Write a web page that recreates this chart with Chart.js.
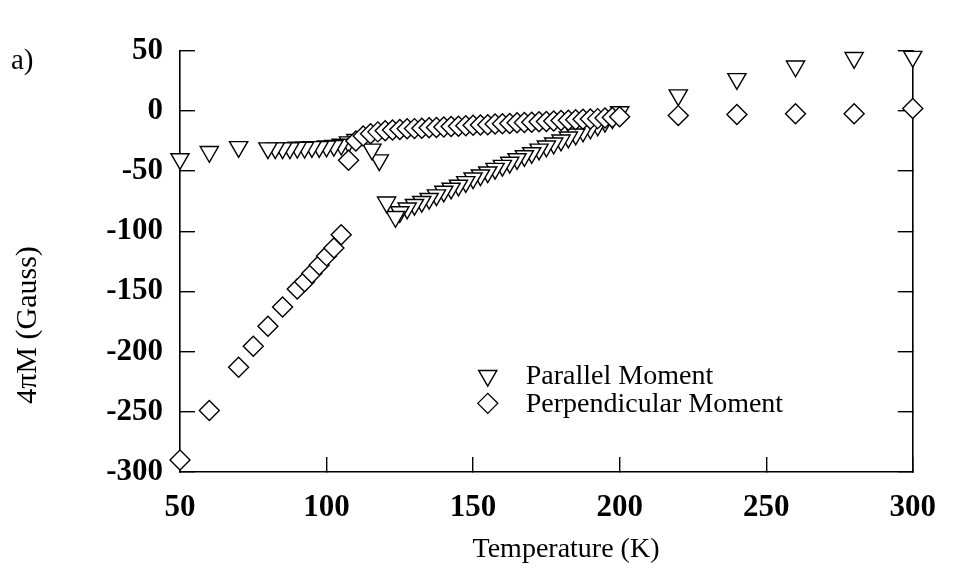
<!DOCTYPE html>
<html>
<head>
<meta charset="utf-8">
<script src="https://cdn.jsdelivr.net/npm/chart.js@4.4.1/dist/chart.umd.min.js"></script>
<style>
  html, body { margin: 0; padding: 0; background: #fff; }
  #wrap { position: relative; width: 968px; height: 569px; }
</style>
</head>
<body>
<div id="wrap"><canvas id="chart"></canvas></div>
<script>
// values, temperature in K, 4piM in Gauss
// parallel moment, listed in measuring order (warm to cold)
const parallelTemp = [300, 280, 260, 240, 220,
  200, 197.5, 195, 192.5, 190, 187.5, 185, 182.5, 180, 177.5, 175, 172.5, 170, 167.5, 165, 162.5,
  160, 157.5, 155, 152.5, 150, 147.5, 145, 142.5, 140, 137.5, 135, 132.5, 130, 127.5, 125,
  123.5, 120.5, 118, 115.5,
  110, 107.5, 105, 102.5, 100, 97.5, 95, 92.5, 90, 87.5, 85, 82.5, 80,
  70, 60, 50];
const parallelMoment = [45, 44, 37, 26.5, 13,
  -1, -6, -9, -12, -14.5, -17, -19.5, -22, -24.5, -27, -29.5, -32, -35, -37.5, -40, -43,
  -45.5, -48, -51, -53.5, -56, -59, -62, -64.5, -67, -70, -73, -75.5, -78, -81, -84,
  -88, -76, -41, -32,
  -24, -26, -28, -29, -29.5, -30, -30, -30.5, -30.5, -31, -31, -31, -31,
  -30, -34, -40];

// perpendicular moment (cold to warm)
const perpTemp = [50, 60, 70, 75, 80, 85, 90, 92.5, 95, 97.5, 100, 102.5, 105,
  107.5, 110, 112.5, 115, 117.5,
  120, 122.5, 125, 127.5, 130, 132.5, 135, 137.5, 140, 142.5, 145, 147.5, 150, 152.5, 155, 157.5,
  160, 162.5, 165, 167.5, 170, 172.5, 175, 177.5, 180, 182.5, 185, 187.5, 190, 192.5, 195, 197.5, 200,
  220, 240, 260, 280, 300];
const perpMoment = [-290, -249, -213, -195.5, -179, -163, -148, -142, -135, -128, -120.5, -114, -103,
  -41, -25, -21, -19, -17.5,
  -16.5, -16, -15.5, -15, -14.8, -14.5, -14, -13.8, -13.5, -13, -12.8, -12.5, -12, -11.8, -11.5, -11,
  -10.8, -10.5, -10, -9.8, -9.5, -9, -8.8, -8.5, -8, -7.8, -7.5, -7, -6.8, -6.5, -6, -5.5, -5,
  -4, -3, -2.5, -2.5, 2];

const xTicks = [50, 100, 150, 200, 250, 300];
const yTicks = [50, 0, -50, -100, -150, -200, -250, -300];
const seriesNames = ["Parallel Moment", "Perpendicular Moment"];
const xTitle = "Temperature (K)";
const yTitle = "4\u03c0M (Gauss)";
const panelTag = "a)";

const toPoints = (xs, ys) => xs.map((x, i) => ({ x: x, y: ys[i] }));

const serif = "'Liberation Serif', 'DejaVu Serif', serif";
const tickFont = { family: serif, size: 31, weight: "bold" };

const markerStyle = {
  parallel: { pointStyle: "triangle", radius: 10.5, rotation: 180, borderWidth: 1.4 },
  perp: { pointStyle: "rectRot", radius: 10, rotation: 0, borderWidth: 1.4 }
};

// legend inside the plot, axis titles and the panel tag
const figureExtras = {
  id: "figureExtras",
  afterDraw(chart) {
    const ctx = chart.ctx;
    const xs = chart.scales.x, ys = chart.scales.y;
    ctx.save();
    const mx = xs.getPixelForValue(155);
    const rows = [
      { y: ys.getPixelForValue(-220), style: markerStyle.parallel, text: seriesNames[0] },
      { y: ys.getPixelForValue(-243), style: markerStyle.perp, text: seriesNames[1] }
    ];
    ctx.font = "28px " + serif;
    ctx.textBaseline = "middle";
    ctx.textAlign = "left";
    rows.forEach(r => {
      ctx.fillStyle = "#fff";
      ctx.strokeStyle = "#000";
      ctx.lineWidth = r.style.borderWidth;
      Chart.helpers.drawPoint(ctx, r.style, mx, r.y);
      ctx.fillStyle = "#000";
      ctx.fillText(r.text, mx + 38, r.y + 1);
    });

    ctx.font = "29px " + serif;
    ctx.fillText(panelTag, 11, 61);

    ctx.textAlign = "center";
    ctx.font = "28px " + serif;
    ctx.fillText(xTitle, 566, 550);

    ctx.translate(28, 325);
    ctx.rotate(-Math.PI / 2);
    ctx.font = "30px " + serif;
    ctx.fillText(yTitle, 0, 0);
    ctx.restore();
  }
};

const axisCommon = {
  type: "linear",
  border: { display: true, color: "#000", width: 1.6 },
  grid: { drawOnChartArea: false, color: "#000", lineWidth: 1.4, tickLength: -15 }
};

new Chart(document.getElementById("chart"), {
  type: "scatter",
  data: {
    datasets: [
      {
        label: seriesNames[1],
        data: toPoints(perpTemp, perpMoment),
        order: 0,
        pointStyle: markerStyle.perp.pointStyle,
        pointRadius: markerStyle.perp.radius,
        pointRotation: markerStyle.perp.rotation,
        pointBorderWidth: markerStyle.perp.borderWidth,
        pointBackgroundColor: "#fff",
        pointBorderColor: "#000",
        showLine: false,
        clip: false
      },
      {
        label: seriesNames[0],
        data: toPoints(parallelTemp, parallelMoment),
        order: 1,
        pointStyle: markerStyle.parallel.pointStyle,
        pointRadius: markerStyle.parallel.radius,
        pointRotation: markerStyle.parallel.rotation,
        pointBorderWidth: markerStyle.parallel.borderWidth,
        pointBackgroundColor: "#fff",
        pointBorderColor: "#000",
        showLine: false,
        clip: false
      }
    ]
  },
  options: {
    responsive: true,
    maintainAspectRatio: false,
    animation: false,
    events: [],
    layout: { padding: { top: 23, left: 0, right: 0, bottom: 0 } },
    plugins: { legend: { display: false }, tooltip: { enabled: false } },
    scales: {
      x: {
        ...axisCommon,
        position: "bottom",
        min: 50, max: 300,
        afterBuildTicks: s => { s.ticks = xTicks.map(v => ({ value: v })); },
        afterFit: s => { s.height = 97; },
        ticks: { color: "#000", font: tickFont, padding: 32, maxRotation: 0 }
      },
      y: {
        ...axisCommon,
        position: "left",
        min: -300, max: 50,
        afterBuildTicks: s => { s.ticks = yTicks.map(v => ({ value: v })); },
        afterFit: s => { s.width = 180; },
        ticks: { color: "#000", font: tickFont, padding: 32 }
      },
      y2: {
        ...axisCommon,
        position: "right",
        min: -300, max: 50,
        afterBuildTicks: s => { s.ticks = yTicks.map(v => ({ value: v })); },
        afterFit: s => { s.width = 31; },
        ticks: { callback: () => "", font: tickFont }
      }
    }
  },
  plugins: [figureExtras]
});
</script>
</body>
</html>
